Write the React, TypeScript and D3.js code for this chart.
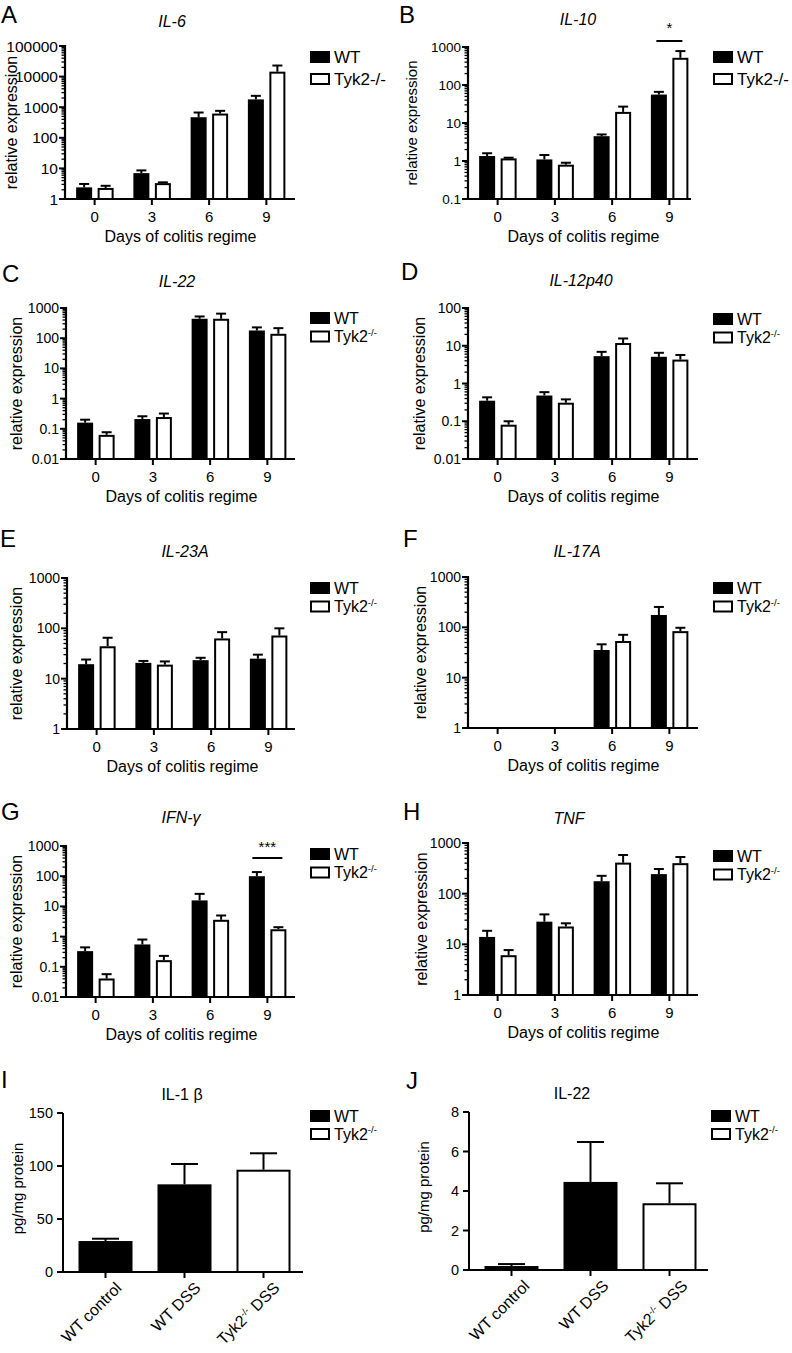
import React from "react";
import * as d3 from "d3";

const FONT = "'Liberation Sans', Arial, Helvetica, sans-serif";

// ---------- data ----------
const days = ["0", "3", "6", "9"];

const il6WT = [2.4, 7, 470, 1800];
const il6WTErr = [3.1, 8.6, 670, 2350];
const il6Tyk = [2.3, 3.3, 620, 14500];
const il6TykErr = [2.7, 3.5, 760, 23000];

const il10WT = [1.35, 1.1, 4.5, 56];
const il10WTErr = [1.6, 1.44, 5.0, 66];
const il10Tyk = [1.17, 0.8, 19.6, 520];
const il10TykErr = [1.22, 0.9, 27, 780];

const il22WT = [0.16, 0.21, 440, 180];
const il22WTErr = [0.2, 0.26, 525, 228];
const il22Tyk = [0.063, 0.245, 440, 140];
const il22TykErr = [0.077, 0.32, 650, 215];

const il12WT = [0.35, 0.48, 5.3, 5.1];
const il12WTErr = [0.43, 0.59, 6.9, 6.5];
const il12Tyk = [0.081, 0.31, 11.8, 4.3];
const il12TykErr = [0.1, 0.38, 15.6, 5.7];

const il23WT = [19.4, 20.6, 23.3, 25];
const il23WTErr = [24, 22.5, 26, 30];
const il23Tyk = [44, 19, 63, 72];
const il23TykErr = [65, 22, 84, 100];

const il17WT = [null, null, 35.5, 176];
const il17WTErr = [null, null, 46, 254];
const il17Tyk = [null, null, 53.5, 84];
const il17TykErr = [null, null, 71, 98];

const ifngWT = [0.33, 0.55, 15.8, 100];
const ifngWTErr = [0.44, 0.8, 26, 137];
const ifngTyk = [0.041, 0.166, 3.6, 1.75];
const ifngTykErr = [0.057, 0.23, 5.0, 2.05];

const tnfWT = [14, 28, 176, 243];
const tnfWTErr = [18.5, 39, 225, 307];
const tnfTyk = [6.1, 22.5, 410, 400];
const tnfTykErr = [7.7, 26, 580, 530];

const proteinGroups = ["WT control", "WT DSS", "Tyk2 DSS"];
const proteinGenotype = ["WT", "WT", "Tyk2"];
const il1bProtein = [29.2, 82.7, 96.5];
const il1bProteinErr = [31.4, 101.9, 112];
const il1bTicks = [0, 50, 100, 150];
const il22Protein = [0.2, 4.46, 3.38];
const il22ProteinErr = [0.3, 6.48, 4.39];
const il22Ticks = [0, 2, 4, 6, 8];

// ---------- panel configs ----------
type LogCfg = {
  letter: string; letterX: number; letterY: number;
  title: string; titleX: number; titleY: number;
  x0: number; x1: number; top: number; bottom: number;
  domain: [number, number];
  wt: (number | null)[]; wtErr: (number | null)[];
  tyk: (number | null)[]; tykErr: (number | null)[];
  legX: number; legY: number; legGap: number; legFont: number; supLegend: boolean;
  tickFont: number; ylabX: number; ylabFont: number;
  sig?: { idx: number; text: string; lineY: number; textY: number; half: number };
};

const logPanels: LogCfg[] = [
  { letter: "A", letterX: 1, letterY: 23, title: "IL-6", titleX: 172, titleY: 27, x0: 65, x1: 295, top: 46, bottom: 199, domain: [1, 100000], wt: il6WT, wtErr: il6WTErr, tyk: il6Tyk, tykErr: il6TykErr, legX: 310, legY: 51, legGap: 22, legFont: 17, supLegend: false, tickFont: 15.5, ylabX: 11, ylabFont: 16 },
  { letter: "B", letterX: 399, letterY: 23, title: "IL-10", titleX: 578, titleY: 25, x0: 468, x1: 691, top: 47, bottom: 199, domain: [0.1, 1000], wt: il10WT, wtErr: il10WTErr, tyk: il10Tyk, tykErr: il10TykErr, legX: 713, legY: 51, legGap: 22, legFont: 17, supLegend: false, tickFont: 13.5, ylabX: 412, ylabFont: 15, sig: { idx: 3, text: "*", lineY: 41, textY: 33, half: 13 } },
  { letter: "C", letterX: 2, letterY: 282, title: "IL-22", titleX: 177, titleY: 287, x0: 66, x1: 295, top: 308, bottom: 459, domain: [0.01, 1000], wt: il22WT, wtErr: il22WTErr, tyk: il22Tyk, tykErr: il22TykErr, legX: 310, legY: 312, legGap: 18.5, legFont: 16, supLegend: true, tickFont: 14, ylabX: 16, ylabFont: 16 },
  { letter: "D", letterX: 401, letterY: 280, title: "IL-12p40", titleX: 581, titleY: 286, x0: 468, x1: 698, top: 308, bottom: 459, domain: [0.01, 100], wt: il12WT, wtErr: il12WTErr, tyk: il12Tyk, tykErr: il12TykErr, legX: 713, legY: 313, legGap: 18.5, legFont: 16, supLegend: true, tickFont: 14, ylabX: 419, ylabFont: 16 },
  { letter: "E", letterX: 0, letterY: 547, title: "IL-23A", titleX: 185, titleY: 557, x0: 67, x1: 295, top: 578, bottom: 729, domain: [1, 1000], wt: il23WT, wtErr: il23WTErr, tyk: il23Tyk, tykErr: il23TykErr, legX: 310, legY: 582, legGap: 18.5, legFont: 16, supLegend: true, tickFont: 14, ylabX: 16, ylabFont: 16 },
  { letter: "F", letterX: 403, letterY: 547, title: "IL-17A", titleX: 577, titleY: 557, x0: 468, x1: 698, top: 577, bottom: 728, domain: [1, 1000], wt: il17WT, wtErr: il17WTErr, tyk: il17Tyk, tykErr: il17TykErr, legX: 713, legY: 582, legGap: 18.5, legFont: 16, supLegend: true, tickFont: 14, ylabX: 420, ylabFont: 16 },
  { letter: "G", letterX: 1, letterY: 820, title: "IFN-γ", titleX: 181, titleY: 823, x0: 66, x1: 295, top: 846, bottom: 997, domain: [0.01, 1000], wt: ifngWT, wtErr: ifngWTErr, tyk: ifngTyk, tykErr: ifngTykErr, legX: 310, legY: 848, legGap: 18.5, legFont: 16, supLegend: true, tickFont: 14, ylabX: 16, ylabFont: 16, sig: { idx: 3, text: "***", lineY: 858, textY: 852, half: 15 } },
  { letter: "H", letterX: 403, letterY: 820, title: "TNF", titleX: 569, titleY: 824, x0: 468, x1: 698, top: 843, bottom: 995, domain: [1, 1000], wt: tnfWT, wtErr: tnfWTErr, tyk: tnfTyk, tykErr: tnfTykErr, legX: 713, legY: 850, legGap: 18.5, legFont: 16, supLegend: true, tickFont: 14, ylabX: 421, ylabFont: 16 },
];

type LinCfg = {
  letter: string; letterX: number; letterY: number;
  title: string; titleX: number; titleY: number;
  x0: number; x1: number; top: number; bottom: number;
  vals: number[]; errs: number[]; ticks: number[];
  legX: number; legY: number; ylabX: number; labDx: number;
};

const linPanels: LinCfg[] = [
  { letter: "I", letterX: 1, letterY: 1088, title: "IL-1 β", titleX: 182, titleY: 1100, x0: 63, x1: 303, top: 1113, bottom: 1272, vals: il1bProtein, errs: il1bProteinErr, ticks: il1bTicks, legX: 310, legY: 1110, ylabX: 18, labDx: 17 },
  { letter: "J", letterX: 406, letterY: 1089, title: "IL-22", titleX: 572, titleY: 1099, x0: 469, x1: 708, top: 1112, bottom: 1270, vals: il22Protein, errs: il22ProteinErr, ticks: il22Ticks, legX: 711, legY: 1110, ylabX: 424, labDx: 19 },
];

const fmt = (v: number) => (v >= 1 ? String(Math.round(v)) : String(Number(v.toPrecision(1))));

function Legend({ x, y, gap, font, sup }: { x: number; y: number; gap: number; font: number; sup: boolean }) {
  return (
    <g fontFamily={FONT} fontSize={font}>
      <rect x={x} y={y} width={20} height={12} fill="#000" />
      <text x={x + 24} y={y + 11.5}>WT</text>
      <rect x={x + 1} y={y + gap + 1} width={18} height={10} fill="#fff" stroke="#000" strokeWidth={2} />
      {sup ? (
        <text x={x + 24} y={y + gap + 11.5}>
          Tyk2<tspan fontSize={font * 0.6} dy={-font * 0.4}>-/-</tspan>
        </text>
      ) : (
        <text x={x + 24} y={y + gap + 11.5}>Tyk2-/-</text>
      )}
    </g>
  );
}

function LogChart({ c }: { c: LogCfg }) {
  const x = d3.scaleBand<string>().domain(days).range([c.x0 + 1, c.x0 + 230]);
  const y = d3.scaleLog().domain(c.domain).range([c.bottom, c.top]);
  const lo = Math.round(Math.log10(c.domain[0]));
  const hi = Math.round(Math.log10(c.domain[1]));
  const majors = d3.range(lo, hi + 1).map((e) => Math.pow(10, e));
  const minors: number[] = [];
  for (let e = lo; e < hi; e++) for (let k = 2; k <= 9; k++) minors.push(k * Math.pow(10, e));
  const center = (d: string) => (x(d) as number) + x.bandwidth() / 2;
  const bw = 16;
  const bars: JSX.Element[] = [];
  days.forEach((d, i) => {
    const cc = center(d);
    const series = [
      { v: c.wt[i], e: c.wtErr[i], left: cc - 18.5, fill: "#000" },
      { v: c.tyk[i], e: c.tykErr[i], left: cc + 3, fill: "#fff" },
    ];
    series.forEach((s, j) => {
      if (s.v == null) return;
      const yt = y(s.v);
      const ye = y(s.e as number);
      const bc = s.left + bw / 2;
      bars.push(
        <g key={`${d}-${j}`}>
          <line x1={bc} x2={bc} y1={yt} y2={ye} stroke="#000" strokeWidth={2} />
          <line x1={bc - 5} x2={bc + 5} y1={ye} y2={ye} stroke="#000" strokeWidth={2} />
          <rect x={s.left + 1} y={yt + 1} width={bw - 2} height={c.bottom - yt - 1} fill={s.fill} stroke="#000" strokeWidth={2} />
        </g>
      );
    });
  });
  const midY = (c.top + c.bottom) / 2;
  return (
    <g>
      <text x={c.letterX} y={c.letterY} fontFamily={FONT} fontSize={24}>{c.letter}</text>
      <text x={c.titleX} y={c.titleY} fontFamily={FONT} fontSize={16} fontStyle="italic" textAnchor="middle">{c.title}</text>
      <text transform={`translate(${c.ylabX},${midY}) rotate(-90)`} fontFamily={FONT} fontSize={c.ylabFont} textAnchor="middle" dy="0.35em">relative expression</text>
      {bars}
      {/* y axis */}
      <line x1={c.x0} x2={c.x0} y1={c.top - 1} y2={c.bottom + 1} stroke="#000" strokeWidth={2.2} />
      {minors.map((v) => (
        <line key={`m${v}`} x1={c.x0 - 3.5} x2={c.x0} y1={y(v)} y2={y(v)} stroke="#000" strokeWidth={1.3} />
      ))}
      {majors.map((v) => (
        <g key={`M${v}`}>
          <line x1={c.x0 - 6} x2={c.x0} y1={y(v)} y2={y(v)} stroke="#000" strokeWidth={2} />
          <text x={c.x0 - 7} y={y(v)} dy="0.36em" textAnchor="end" fontFamily={FONT} fontSize={c.tickFont}>{fmt(v)}</text>
        </g>
      ))}
      {/* x axis */}
      <line x1={c.x0 - 1} x2={c.x1} y1={c.bottom} y2={c.bottom} stroke="#000" strokeWidth={2.2} />
      {days.map((d) => (
        <g key={`x${d}`}>
          <line x1={center(d)} x2={center(d)} y1={c.bottom} y2={c.bottom + 6} stroke="#000" strokeWidth={2} />
          <text x={center(d)} y={c.bottom + 23} textAnchor="middle" fontFamily={FONT} fontSize={15}>{d}</text>
        </g>
      ))}
      <text x={(center(days[0]) + center(days[3])) / 2} y={c.bottom + 43} textAnchor="middle" fontFamily={FONT} fontSize={16}>Days of colitis regime</text>
      {c.sig && (
        <g>
          <line x1={center(days[c.sig.idx]) - c.sig.half} x2={center(days[c.sig.idx]) + c.sig.half} y1={c.sig.lineY} y2={c.sig.lineY} stroke="#000" strokeWidth={2} />
          <text x={center(days[c.sig.idx])} y={c.sig.textY} textAnchor="middle" fontFamily={FONT} fontSize={15}>{c.sig.text}</text>
        </g>
      )}
      <Legend x={c.legX} y={c.legY} gap={c.legGap} font={c.legFont} sup={c.supLegend} />
    </g>
  );
}

function LinChart({ c }: { c: LinCfg }) {
  const x = d3.scaleBand<string>().domain(proteinGroups).range([c.x0 + 3, c.x0 + 240]);
  const y = d3.scaleLinear().domain([c.ticks[0], c.ticks[c.ticks.length - 1]]).range([c.bottom, c.top]);
  const center = (d: string) => (x(d) as number) + x.bandwidth() / 2;
  const bw = 54;
  const midY = (c.top + c.bottom) / 2;
  return (
    <g>
      <text x={c.letterX} y={c.letterY} fontFamily={FONT} fontSize={24}>{c.letter}</text>
      <text x={c.titleX} y={c.titleY} fontFamily={FONT} fontSize={16} textAnchor="middle">{c.title}</text>
      <text transform={`translate(${c.ylabX},${midY - 4}) rotate(-90)`} fontFamily={FONT} fontSize={15} textAnchor="middle" dy="0.35em">pg/mg protein</text>
      {proteinGroups.map((g, i) => {
        const cc = center(g);
        const yt = y(c.vals[i]);
        const ye = y(c.errs[i]);
        return (
          <g key={g}>
            <line x1={cc} x2={cc} y1={yt} y2={ye} stroke="#000" strokeWidth={2} />
            <line x1={cc - bw / 4} x2={cc + bw / 4} y1={ye} y2={ye} stroke="#000" strokeWidth={2} />
            <rect x={cc - bw / 2 + 1} y={yt + 1} width={bw - 2} height={c.bottom - yt - 1} fill={proteinGenotype[i] === "WT" ? "#000" : "#fff"} stroke="#000" strokeWidth={2} />
          </g>
        );
      })}
      <line x1={c.x0} x2={c.x0} y1={c.top} y2={c.bottom + 1} stroke="#000" strokeWidth={2} />
      {c.ticks.map((v) => (
        <g key={`t${v}`}>
          <line x1={c.x0 - 6} x2={c.x0} y1={y(v)} y2={y(v)} stroke="#000" strokeWidth={2} />
          <text x={c.x0 - 10} y={y(v)} dy="0.36em" textAnchor="end" fontFamily={FONT} fontSize={14.5}>{v}</text>
        </g>
      ))}
      <line x1={c.x0 - 1} x2={c.x1} y1={c.bottom} y2={c.bottom} stroke="#000" strokeWidth={2} />
      {proteinGroups.map((g) => {
        const cc = center(g);
        return (
          <g key={`x${g}`}>
            <line x1={cc} x2={cc} y1={c.bottom} y2={c.bottom + 6} stroke="#000" strokeWidth={2} />
            <text transform={`translate(${cc + c.labDx},${c.bottom + 17}) rotate(-45)`} textAnchor="end" fontFamily={FONT} fontSize={16}>
              {g === "Tyk2 DSS" ? (
                <>Tyk2<tspan fontSize={9.5} dy={-6}>-/-</tspan><tspan dy={6}> DSS</tspan></>
              ) : g}
            </text>
          </g>
        );
      })}
      <Legend x={c.legX} y={c.legY} gap={18} font={16} sup={true} />
    </g>
  );
}

export default function App() {
  return (
    <svg width={792} height={1353} viewBox="0 0 792 1353" style={{ position: "absolute", left: 0, top: 0, background: "#fff" }}>
      <rect x={0} y={0} width={792} height={1353} fill="#fff" />
      {logPanels.map((c) => (
        <LogChart key={c.letter} c={c} />
      ))}
      {linPanels.map((c) => (
        <LinChart key={c.letter} c={c} />
      ))}
    </svg>
  );
}
